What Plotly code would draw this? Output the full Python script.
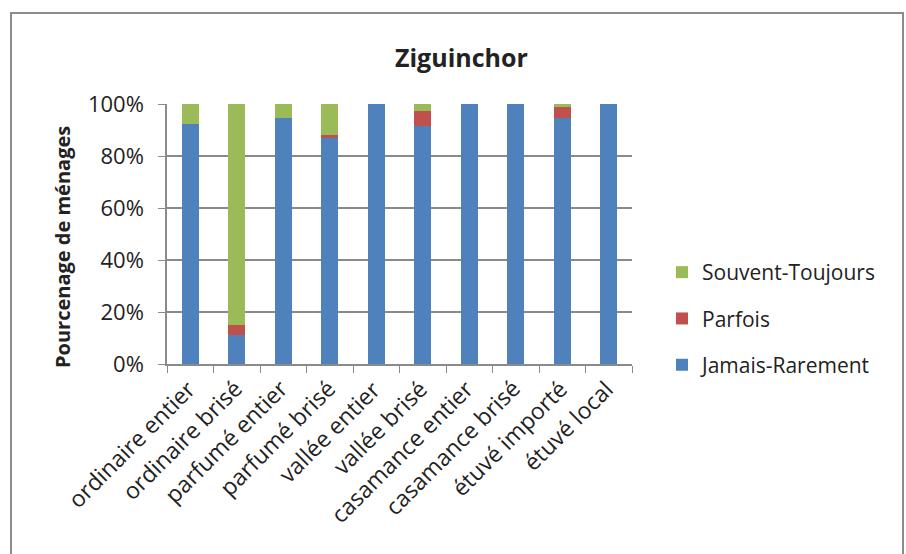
import plotly.graph_objects as go

categories = ["ordinaire entier", "ordinaire brisé", "parfumé entier", "parfumé brisé",
              "vallée entier", "vallée brisé", "casamance entier", "casamance brisé",
              "étuvé importé", "étuvé local"]
jamais_rarement = [92.3, 11.0, 94.6, 87.0, 100.0, 91.5, 100.0, 100.0, 94.5, 100.0]
parfois = [0.0, 4.0, 0.0, 1.0, 0.0, 5.8, 0.0, 0.0, 4.2, 0.0]
souvent_toujours = [7.7, 85.0, 5.4, 12.0, 0.0, 2.7, 0.0, 0.0, 1.3, 0.0]
y_ticks = [0, 20, 40, 60, 80, 100]
y_tick_labels = ["0%", "20%", "40%", "60%", "80%", "100%"]

FONT = "Open Sans"
GRID = "#8a8a8a"
TEXT = "#222"

fig = go.Figure()
for name, vals, color, rank in [("Jamais-Rarement", jamais_rarement, "#4F81BD", 3),
                                ("Parfois", parfois, "#C0504D", 2),
                                ("Souvent-Toujours", souvent_toujours, "#9BBB59", 1)]:
    fig.add_trace(go.Bar(x=categories, y=vals, name=name, marker_color=color,
                         marker_line_width=0, legendgroup=name, legendrank=rank))

# plot area in pixels: x 167..632, y 104..364
L, R, T, B = 167, 632, 104, 364
W, H = R - L, B - T
def px(x):
    return (x - L) / W
def py(y):
    return (B - y) / H

# rotated category labels, ending just below each bar (positioned by category index)
cat_labels = [dict(text=c, xref="x", yref="paper", x=i, y=0, xanchor="right", yanchor="top",
                   textangle=-45, showarrow=False, yshift=-6, xshift=14,
                   font=dict(size=23, color=TEXT)) for i, c in enumerate(categories)]

fig.update_layout(
    width=906, height=554,
    margin=dict(l=L, r=906 - R, t=T, b=554 - B),
    paper_bgcolor="white", plot_bgcolor="white",
    barmode="stack", bargap=0.63,
    font=dict(family=FONT, size=21, color=TEXT),
    showlegend=True,
    legend=dict(x=px(662), y=py(252), xanchor="left", yanchor="top",
                traceorder="grouped", tracegroupgap=16,
                font=dict(size=21, color=TEXT), itemwidth=30),
    xaxis=dict(type="category", range=[-0.5, len(categories) - 0.5],
               showline=True, linecolor=GRID, linewidth=1.5, ticks="outside",
               tickson="boundaries", ticklen=7, tickcolor=GRID,
               showticklabels=False, showgrid=False),
    yaxis=dict(range=[0, 100], tickvals=y_ticks, ticktext=y_tick_labels, showline=True,
               linecolor=GRID, linewidth=1.5, ticks="outside", ticklen=7,
               tickcolor=GRID, showgrid=True, gridcolor=GRID, gridwidth=1.5,
               zeroline=False, tickfont=dict(size=22), ticklabelstandoff=10),
    annotations=cat_labels + [
        dict(text="<b>Ziguinchor</b>", xref="paper", yref="paper", x=px(461), y=py(57),
             showarrow=False, font=dict(size=25, color=TEXT), xanchor="center", yanchor="middle"),
        dict(text="<b>Pourcenage de ménages</b>", xref="paper", yref="paper", x=px(62), y=py(247),
             showarrow=False, textangle=-90, font=dict(size=20, color=TEXT),
             xanchor="center", yanchor="middle"),
    ],
    shapes=[dict(type="rect", xref="paper", yref="paper", x0=px(11), x1=px(903),
                 y0=py(570), y1=py(13), line=dict(color="#8c8c8c", width=2),
                 fillcolor="rgba(0,0,0,0)", layer="below")],
)

fig.write_html("out.html")
